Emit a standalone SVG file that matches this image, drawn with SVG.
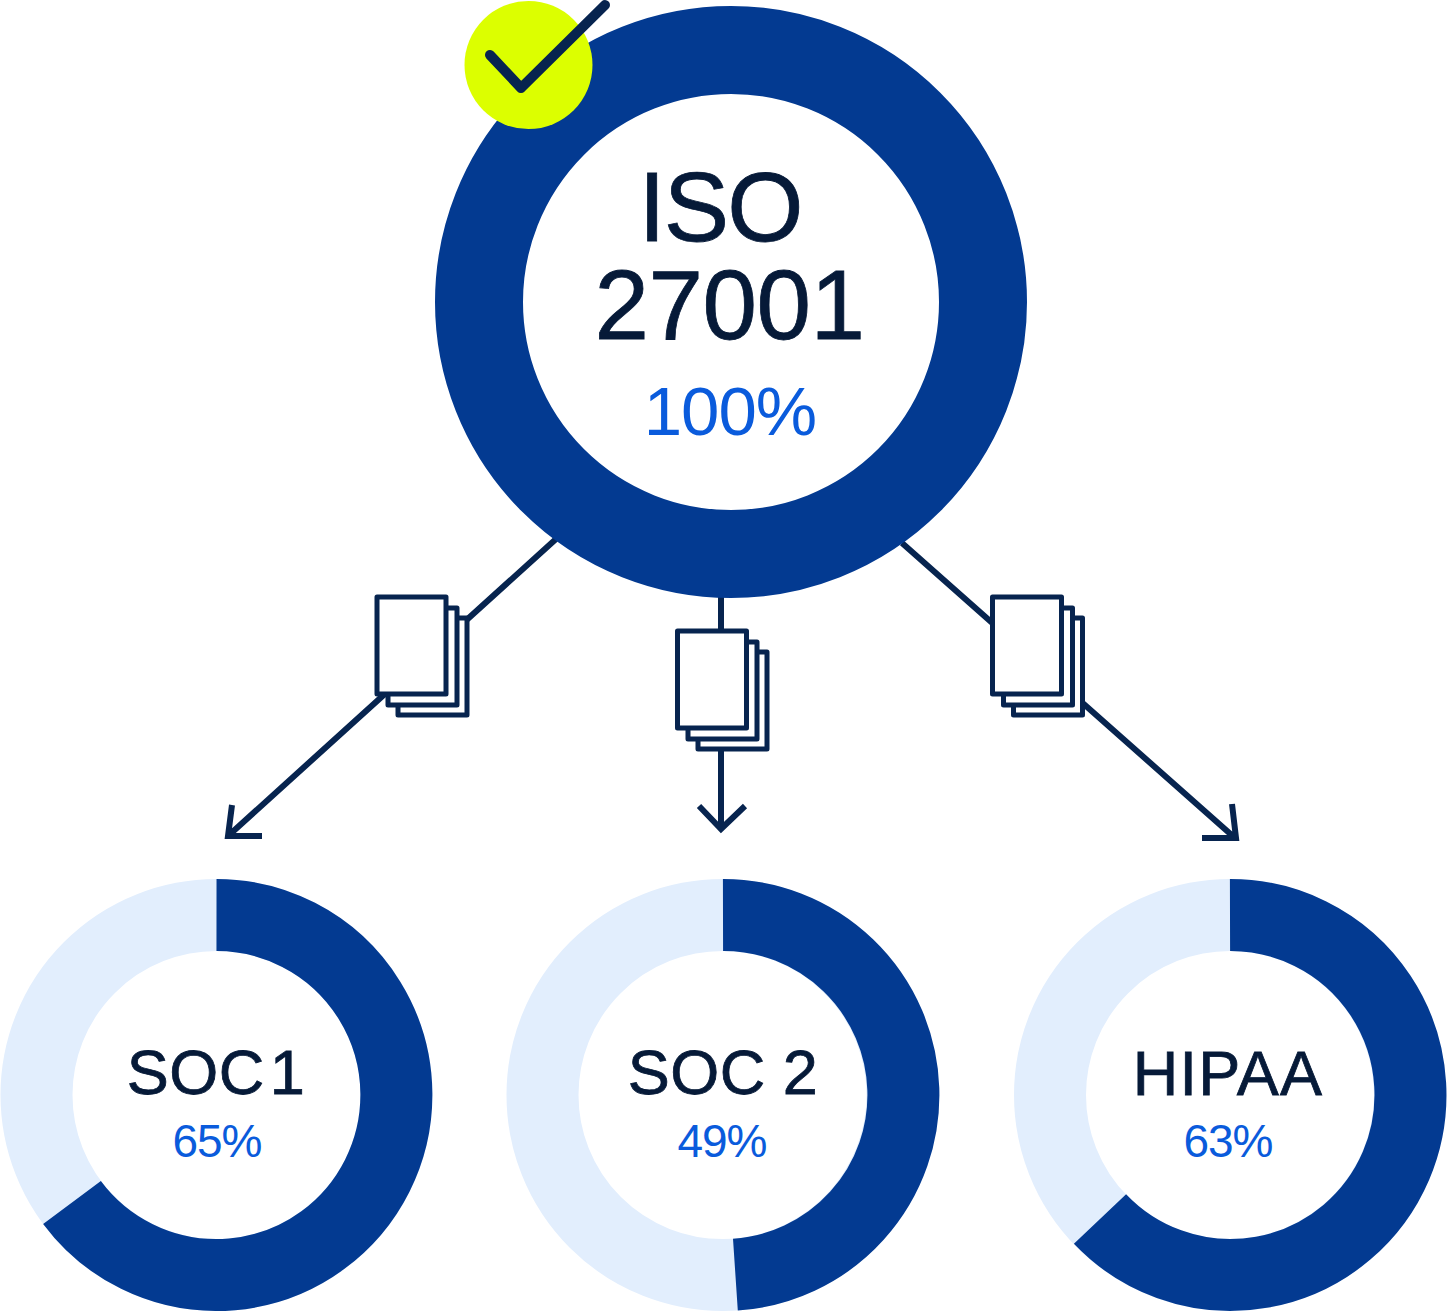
<svg xmlns="http://www.w3.org/2000/svg" width="1447" height="1312" viewBox="0 0 1447 1312">
<style>
.t{font-family:"Liberation Sans",Arial,sans-serif;fill:#061a38;stroke:#061a38;stroke-width:0.8;text-anchor:middle}
.p{font-family:"Liberation Sans",Arial,sans-serif;fill:#0a5bdc;text-anchor:middle}
.l{fill:none;stroke:#07244f;stroke-width:6}
.d{fill:#fff;stroke:#07244f;stroke-width:5;stroke-linejoin:round}
.bg{fill:none;stroke:#e2eefd;stroke-width:72}
.fg{fill:none;stroke:#033a91;stroke-width:72}
</style>
<rect width="1447" height="1312" fill="#fff"/>
<g id="connectors">
<path class="l" d="M556 539L228 836M262 836H228L232 805"/>
<path class="l" d="M721 597V829M699 806L721 829L745 806"/>
<path class="l" d="M902 543L1235 838M1202 838H1236L1232 804"/>
</g>
<g id="iso">
<circle cx="731" cy="302" r="252" fill="#fff" stroke="#033a91" stroke-width="88"/>
<text class="t" x="720" y="241" font-size="98" letter-spacing="-2">ISO</text>
<text class="t" x="729.500" y="339" font-size="98" letter-spacing="-0.500">27001</text>
<text class="p" x="730" y="435" font-size="69" letter-spacing="-1">100%</text>
</g>
<g id="check">
<circle cx="528.500" cy="65" r="64" fill="#dcff00"/>
<path d="M490 55L521 88L605 5" fill="none" stroke="#07244f" stroke-width="10" stroke-linecap="round" stroke-linejoin="round"/>
</g>
<g id="docs-left">
<rect class="d" x="398" y="618" width="69" height="97"/><rect class="d" x="388" y="608" width="69" height="97"/><rect class="d" x="377" y="597" width="69" height="97"/>
</g>
<g id="docs-mid">
<rect class="d" x="698" y="652" width="69" height="97"/><rect class="d" x="688" y="642" width="69" height="97"/><rect class="d" x="677.500" y="631" width="69" height="97"/>
</g>
<g id="docs-right">
<rect class="d" x="1013.500" y="618" width="69" height="97"/><rect class="d" x="1003.500" y="608" width="69" height="97"/><rect class="d" x="992.500" y="597" width="69" height="97"/>
</g>
<g id="soc1">
<circle class="bg" cx="216.500" cy="1095" r="180"/>
<path class="fg" d="M216.500 915A180 180 0 1 1 72 1202.500"/>
<text class="t" x="216" y="1094" font-size="63" letter-spacing="0.500" word-spacing="-13">SOC 1</text>
<text class="p" x="217" y="1157" font-size="46" letter-spacing="-1">65%</text>
</g>
<g id="soc2">
<circle class="bg" cx="722.500" cy="1095" r="180"/>
<path class="fg" d="M723 915A180 180 0 0 1 735.400 1274.600"/>
<text class="t" x="723" y="1094" font-size="63" letter-spacing="0.500" word-spacing="-1">SOC 2</text>
<text class="p" x="722" y="1157" font-size="46" letter-spacing="-1">49%</text>
</g>
<g id="hipaa">
<circle class="bg" cx="1230" cy="1095" r="180"/>
<path class="fg" d="M1230 915A180 180 0 1 1 1100 1219"/>
<text class="t" x="1228" y="1095" font-size="63" letter-spacing="1.200">HIPAA</text>
<text class="p" x="1228" y="1157" font-size="46" letter-spacing="-1">63%</text>
</g>
</svg>
